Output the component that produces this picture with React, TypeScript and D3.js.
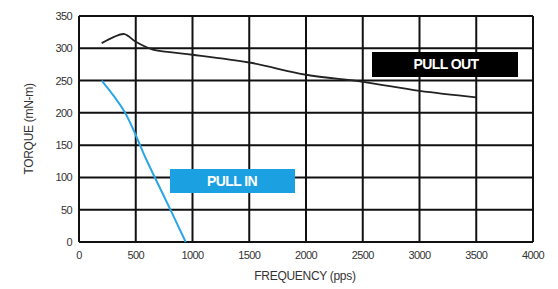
import React from 'react';
import * as d3 from 'd3';

// torque curves
const pullOutFreq = [200, 300, 400, 500, 650, 800, 1000, 1500, 2000, 2500, 3000, 3500];
const pullOutTorque = [308, 317, 322, 310, 298, 294, 290, 278, 259, 248, 234, 224];
const pullInFreq = [200, 400, 600, 800, 940];
const pullInTorque = [250, 202, 125, 52, 0];

const xTicks = [0, 500, 1000, 1500, 2000, 2500, 3000, 3500, 4000];
const yTicks = [0, 50, 100, 150, 200, 250, 300, 350];

const W = 558;
const H = 289;
const FONT = "'Liberation Sans Narrow', 'Liberation Sans', Arial, sans-serif";

export default function App() {
  const x = d3.scaleLinear().domain([0, 4000]).range([79, 533]);
  const y = d3.scaleLinear().domain([0, 350]).range([242, 16]);

  const line = d3
    .line<[number, number]>()
    .x(d => x(d[0]))
    .y(d => y(d[1]))
    .curve(d3.curveCatmullRom.alpha(0.5));

  const outPts = pullOutFreq.map((f, i) => [f, pullOutTorque[i]] as [number, number]);
  const inPts = pullInFreq.map((f, i) => [f, pullInTorque[i]] as [number, number]);

  return (
    <svg
      width={W}
      height={H}
      style={{ position: 'absolute', left: 0, top: 0, background: '#fff' }}
      fontFamily={FONT}
    >
      {/* grid */}
      {xTicks.map(t => (
        <line key={'gx' + t} x1={x(t)} x2={x(t)} y1={y(0)} y2={y(350)} stroke="#111" strokeWidth={2} />
      ))}
      {yTicks.map(t => (
        <line key={'gy' + t} x1={x(0)} x2={x(4000)} y1={y(t)} y2={y(t)} stroke="#111" strokeWidth={2} />
      ))}

      {/* tick labels */}
      {yTicks.map(t => (
        <text key={'ly' + t} x={72} y={y(t) + 4} textAnchor="end" fontSize={11} fill="#333" letterSpacing={-0.6}>
          {t}
        </text>
      ))}
      {xTicks.map(t => (
        <text key={'lx' + t} x={x(t)} y={259} textAnchor="middle" fontSize={11} fill="#333" letterSpacing={-0.6}>
          {t}
        </text>
      ))}

      <text x={305} y={280} textAnchor="middle" fontSize={12} fill="#333" letterSpacing={-0.3}>
        FREQUENCY (pps)
      </text>
      <text
        transform={`translate(33,${y(175)}) rotate(-90)`}
        textAnchor="middle"
        fontSize={12}
        fill="#333"
        letterSpacing={-0.3}
      >
        TORQUE (mN-m)
      </text>

      {/* curves */}
      <path d={line(outPts) ?? ''} fill="none" stroke="#222" strokeWidth={1.8} />
      <path d={line(inPts) ?? ''} fill="none" stroke="#2aa6e6" strokeWidth={2} />

      {/* labels */}
      <rect x={372} y={52} width={146} height={25} fill="#000" />
      <text x={446} y={69} textAnchor="middle" fontSize={14} fontWeight="bold" fill="#fff" letterSpacing={-0.6}>
        PULL OUT
      </text>
      <rect x={170} y={169} width={125} height={24} fill="#1ba1e2" />
      <text x={232} y={186} textAnchor="middle" fontSize={14} fontWeight="bold" fill="#fff" letterSpacing={-0.6}>
        PULL IN
      </text>
    </svg>
  );
}
